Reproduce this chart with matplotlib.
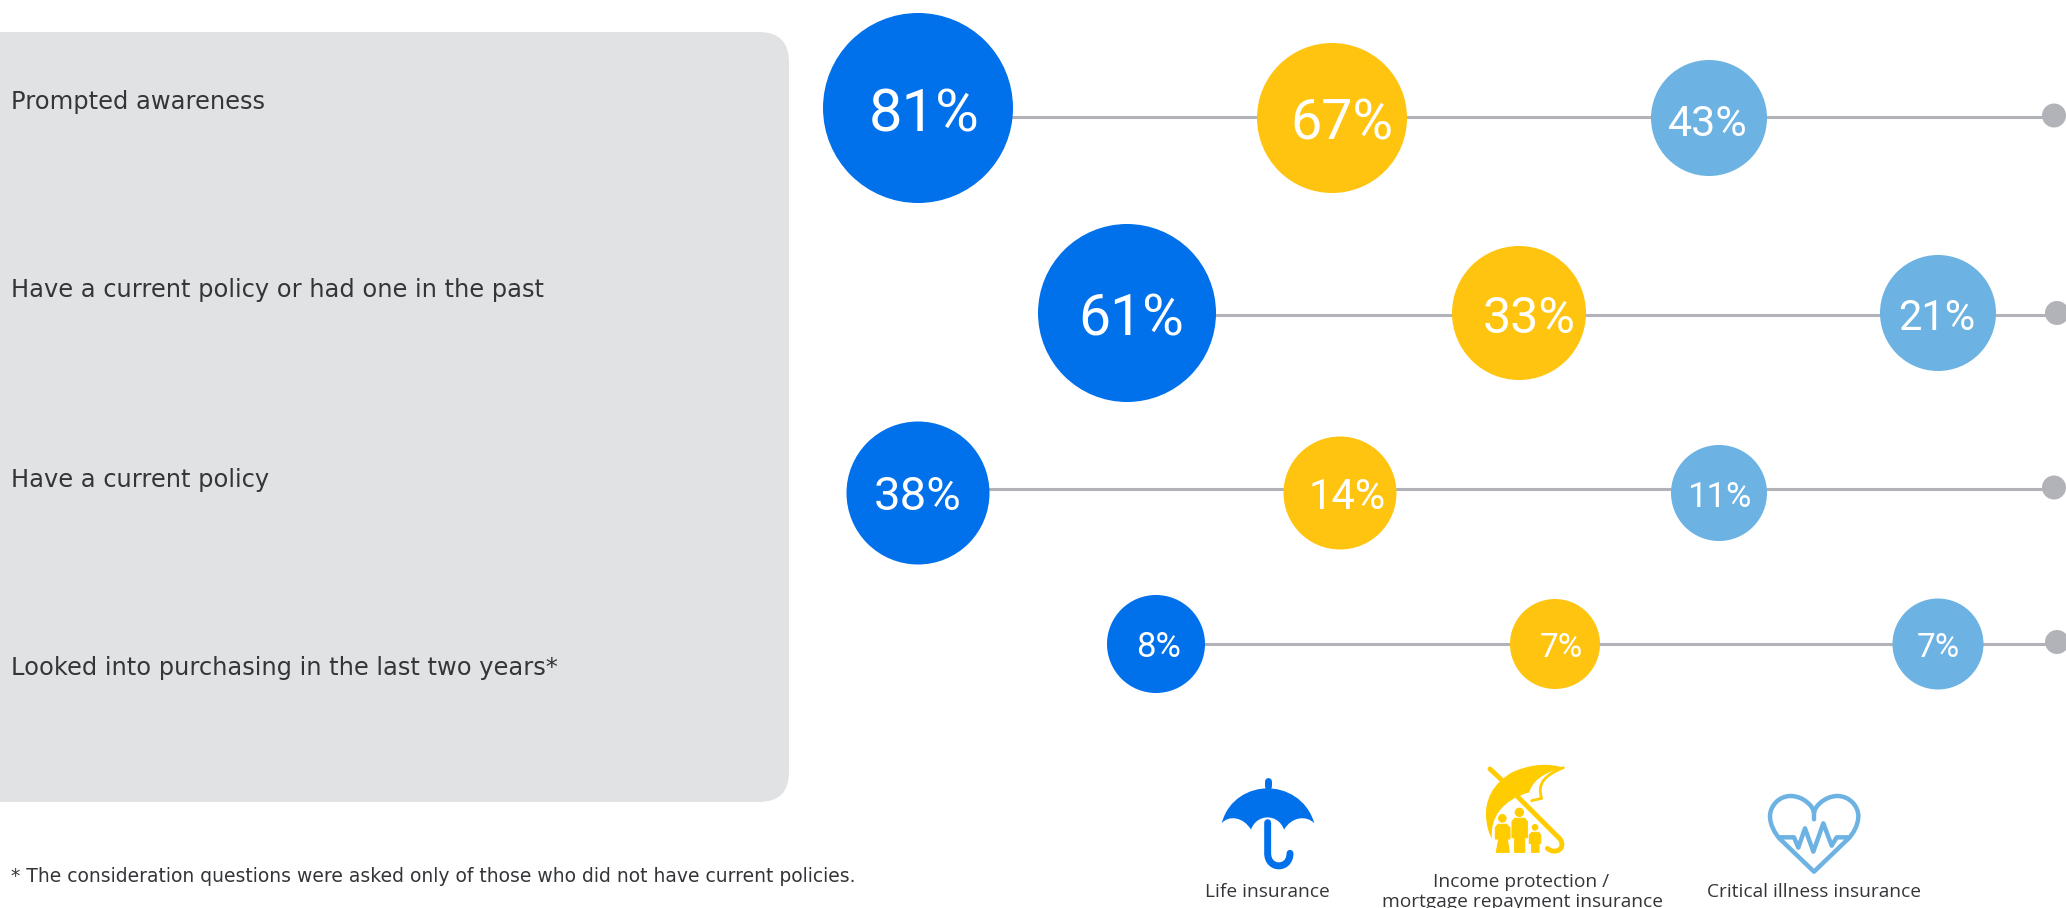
import matplotlib
matplotlib.use("Agg")
import matplotlib.pyplot as plt
from matplotlib.patches import Circle, FancyBboxPatch, PathPatch, Polygon
from matplotlib.path import Path

categories = [
    "Prompted awareness",
    "Have a current policy or had one in the past",
    "Have a current policy",
    "Looked into purchasing in the last two years*",
]
life_values = [81, 61, 38, 8]
income_values = [67, 33, 14, 7]
critical_values = [43, 21, 11, 7]
footnote = "* The consideration questions were asked only of those who did not have current policies."

BLUE = "#0070EB"
YELLOW = "#FFC40F"
ICON_YELLOW = "#FFCC00"
SKY = "#6CB2E2"
GREY = "#B1B3B8"
PANEL = "#E1E2E4"
INK = "#333538"

# layout in canvas pixels, one entry per row
row_y = [117, 315, 489, 644]
dot_y = [115.5, 313, 487.5, 642]
dot_x = [2054, 2057, 2054, 2057]
category_y = [101.5, 289.5, 479.5, 667.5]
columns = [
    dict(values=life_values, color=BLUE, x=[918, 1127, 918, 1156], y=[108, 313, 493, 644],
         r=[95, 89, 71.5, 49], tx=[924, 1131, 918, 1159], base=[132, 335, 510, 657], size=[43, 41, 34, 25]),
    dict(values=income_values, color=YELLOW, x=[1332, 1519, 1340, 1555], y=[118, 313, 493, 644],
         r=[75, 67, 56.5, 45], tx=[1342, 1529, 1347, 1561], base=[140, 333, 509, 657], size=[40, 36, 30, 24]),
    dict(values=critical_values, color=SKY, x=[1709, 1938, 1719, 1938], y=[118, 313, 493, 644],
         r=[58, 58, 48, 45.5], tx=[1708, 1937, 1719, 1938], base=[136, 330, 507, 657], size=[31, 30, 25, 24]),
]

fig = plt.figure(figsize=(20.66, 9.08), dpi=100)
ax = fig.add_axes([0, 0, 1, 1])
ax.set_xlim(0, 2066)
ax.set_ylim(908, 0)
ax.axis("off")

# grey panel behind the row labels, runs off the left edge
ax.add_patch(FancyBboxPatch((-60, 32), 849, 770, boxstyle="round,pad=0,rounding_size=30",
                            fc=PANEL, ec="none", zorder=0))

for name, y in zip(categories, category_y):
    ax.text(11, y, name, fontsize=17.4, family="DejaVu Sans", color=INK, va="center", ha="left")
ax.text(11, 876, footnote, fontsize=13.5, family="DejaVu Sans", color=INK, va="center", ha="left")

# connector lines and their end dots
for i in range(4):
    ax.plot([columns[0]["x"][i], dot_x[i]], [row_y[i], row_y[i]], color=GREY, lw=2.2, zorder=1,
            solid_capstyle="butt")
    ax.add_patch(Circle((dot_x[i], dot_y[i]), 12, fc=GREY, ec="none", zorder=2))

# bubbles
for col in columns:
    for i in range(4):
        ax.add_patch(Circle((col["x"][i], col["y"][i]), col["r"][i], fc=col["color"], ec="none", zorder=3))
        ax.text(col["tx"][i], col["base"][i], f"{col['values'][i]}%", color="white", fontsize=col["size"][i],
                family="Roboto", ha="center", va="baseline", zorder=4)


def icon_path(ox, oy, verts, codes=None):
    # icon drawings are sketched at three times canvas scale
    pts = [(ox + x / 3, oy + y / 3) for x, y in verts]
    return Path(pts, codes) if codes else Path(pts)


def stroke(ox, oy, verts, color, lw, codes=None):
    ax.add_patch(PathPatch(icon_path(ox, oy, verts, codes), fc="none", ec=color, lw=lw,
                           capstyle="round", joinstyle="round", zorder=3))


M, L, C4 = Path.MOVETO, Path.LINETO, Path.CURVE4

# life insurance umbrella
ox, oy = 1200, 755
stroke(ox, oy, [(203, 78), (203, 92)], BLUE, 5)
canopy = [(65, 205), (85, 130), (150, 100), (203, 100), (256, 100), (321, 130), (343, 205),
          (320, 180), (275, 185), (252, 224), (235, 175), (170, 175), (153, 224),
          (130, 185), (85, 180), (65, 205), (65, 205)]
canopy_codes = [M, C4, C4, C4, C4, C4, C4, C4, C4, C4, C4, C4, C4, C4, C4, C4, L]
ax.add_patch(PathPatch(icon_path(ox, oy, canopy, canopy_codes), fc=BLUE, ec="none", zorder=3))
handle = [(203, 203), (203, 295), (203, 345), (270, 345), (270, 295)]
stroke(ox, oy, handle, BLUE, 5, [M, L, C4, C4, C4])

# income protection umbrella sheltering a family
ox, oy = 1470, 755
stroke(ox, oy, [(60, 42), (92, 72)], ICON_YELLOW, 3.5)
shade = [(280, 38), (240, 25), (190, 25), (130, 50), (65, 85), (45, 140), (48, 185), (50, 215), (58, 240), (66, 250),
         (60, 190), (95, 135), (178, 112), (185, 85), (210, 55), (280, 38), (280, 38)]
shade_codes = [M, C4, C4, C4, C4, C4, C4, C4, C4, C4, C4, C4, C4, C4, C4, C4, L]
ax.add_patch(PathPatch(icon_path(ox, oy, shade, shade_codes), fc=ICON_YELLOW, ec="none", zorder=3))
stroke(ox, oy, [(280, 38), (225, 60), (200, 85), (215, 130), (185, 137)], ICON_YELLOW, 2, [M, C4, C4, C4, L])
stroke(ox, oy, [(143, 125), (270, 252), (290, 282), (255, 300), (232, 280)], ICON_YELLOW, 3.5, [M, L, C4, C4, C4])
for hx, hy, hr in [(97, 190, 13), (148, 172, 14), (195, 217, 10)]:
    ax.add_patch(Circle((ox + hx / 3, oy + hy / 3), hr / 3, fc=ICON_YELLOW, ec="none", zorder=3))
bodies = [
    [(84, 208), (110, 208), (120, 218), (120, 252), (112, 252), (118, 292), (79, 292), (86, 252), (76, 252), (76, 218)],
    [(134, 190), (164, 190), (172, 200), (172, 248), (164, 248), (164, 292), (134, 292), (134, 248), (126, 248), (126, 200)],
    [(186, 232), (206, 232), (212, 240), (212, 265), (207, 265), (207, 292), (185, 292), (185, 265), (178, 265), (178, 240)],
]
for body in bodies:
    ax.add_patch(Polygon([(ox + x / 3, oy + y / 3) for x, y in body], closed=True, fc=ICON_YELLOW,
                         ec=ICON_YELLOW, lw=0.8, joinstyle="round", zorder=3))

# critical illness heart with a pulse trace
ox, oy = 1750, 780
heart = [(192, 118), (192, 100), (192, 80), (160, 48), (122, 48), (85, 48), (60, 80), (60, 108), (60, 135), (75, 160), (88, 175),
         (192, 275), (296, 175), (310, 160), (325, 135), (325, 108), (325, 80), (300, 48), (262, 48), (225, 48), (192, 80), (192, 100)]
heart_codes = [M, L, C4, C4, C4, C4, C4, C4, C4, C4, C4, L, L, C4, C4, C4, C4, C4, C4, C4, C4, C4]
stroke(ox, oy, heart, SKY, 3.2, heart_codes)
pulse = [(88, 172), (132, 172), (145, 203), (165, 145), (190, 215), (220, 130), (245, 197), (260, 172), (298, 172)]
stroke(ox, oy, pulse, SKY, 3.2)

legend_labels = [
    (1267, 892, "Life insurance"),
    (1521, 882, "Income protection /"),
    (1522, 902, "mortgage repayment insurance"),
    (1814, 892, "Critical illness insurance"),
]
for x, y, label in legend_labels:
    ax.text(x, y, label, fontsize=13.8, family="Open Sans", color=INK, va="center", ha="center")

fig.savefig("out.png", dpi=100, facecolor="white")
